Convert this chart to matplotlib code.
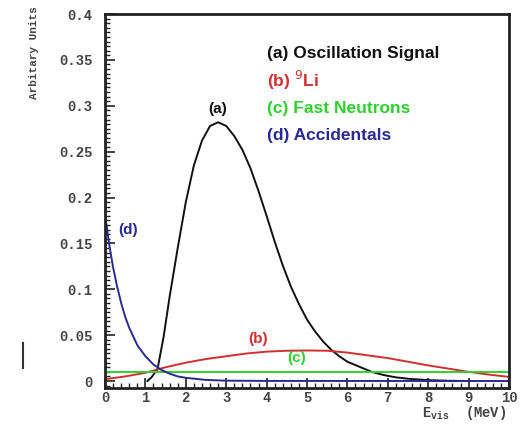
import matplotlib
matplotlib.use("Agg")
import matplotlib.pyplot as plt
from matplotlib.ticker import MultipleLocator
from matplotlib.font_manager import FontProperties
from matplotlib.lines import Line2D

# ── Data ──────────────────────────────────────────────────────────────────────

osc_x = [1.05, 1.15, 1.3, 1.45, 1.6, 1.8, 2.0, 2.2, 2.4, 2.6, 2.8, 3.0, 3.2, 3.4,
         3.6, 3.8, 4.0, 4.2, 4.4, 4.6, 4.8, 5.0, 5.2, 5.4, 5.6, 5.8, 6.0, 6.3,
         6.6, 6.9, 7.2, 7.5, 8.0, 8.5, 9.0]
osc_y = [0.0, 0.004, 0.013, 0.048, 0.092, 0.145, 0.195, 0.235, 0.262, 0.278,
         0.282, 0.278, 0.267, 0.252, 0.232, 0.207, 0.180, 0.152, 0.126, 0.103,
         0.084, 0.067, 0.054, 0.043, 0.034, 0.027, 0.021, 0.0155, 0.010,
         0.0065, 0.004, 0.0025, 0.001, 0.0003, 0.0]

li9_x = [0.0, 0.5, 1.0, 1.5, 2.0, 2.5, 3.0, 3.5, 4.0, 4.5, 5.0, 5.5, 6.0, 6.5,
         7.0, 7.5, 8.0, 8.5, 9.0, 9.5, 10.0]
li9_y = [0.002, 0.005, 0.009, 0.015, 0.020, 0.024, 0.027, 0.030, 0.032, 0.033,
         0.0333, 0.033, 0.031, 0.028, 0.025, 0.021, 0.017, 0.0135, 0.010,
         0.007, 0.0045]

fastn_x = [0.0, 10.0]
fastn_y = [0.010, 0.010]

acc_x = [0.0, 0.1, 0.2, 0.3, 0.4, 0.5, 0.6, 0.8, 1.0, 1.2, 1.4, 1.6, 1.8, 2.0,
         2.5, 3.0, 4.0, 10.0]
acc_y = [0.182, 0.150, 0.124, 0.103, 0.085, 0.070, 0.058, 0.039, 0.027, 0.018,
         0.012, 0.008, 0.005, 0.0035, 0.0012, 0.0004, 0.0001, 0.0]

labels = ["(a) Oscillation Signal", "(b) $^{9}$Li", "(c) Fast Neutrons", "(d) Accidentals"]
tags = ["(a)", "(b)", "(c)", "(d)"]
tag_x = [2.78, 3.79, 4.75, 0.58]
tag_y = [0.296, 0.046, 0.025, 0.165]
colors = ["#111111", "#d03030", "#30d030", "#2a2a90"]

# ── Figure ────────────────────────────────────────────────────────────────────

W, H = 526, 425
fig = plt.figure(figsize=(W / 100, H / 100), dpi=100)
ax = fig.add_axes([105 / W, 1 - 388 / H, (509 - 105) / W, (388 - 14) / H])

series = [(osc_x, osc_y), (li9_x, li9_y), (fastn_x, fastn_y), (acc_x, acc_y)]
for (xs, ys), c in zip(series, colors):
    ax.plot(xs, ys, color=c, lw=1.4)

ax.set_xlim(0, 10)
ax.set_ylim(-0.0076, 0.4)

ax.xaxis.set_major_locator(MultipleLocator(1))
ax.xaxis.set_minor_locator(MultipleLocator(0.2))
ax.yaxis.set_major_locator(MultipleLocator(0.05))
ax.yaxis.set_minor_locator(MultipleLocator(0.005))
ax.yaxis.set_major_formatter(plt.FuncFormatter(lambda v, p: f"{v:g}" if abs(v) > 1e-9 else "0"))
ax.tick_params(which="both", direction="in", top=False, right=False, colors="#222222")
ax.tick_params(which="major", length=7, width=1.2)
ax.tick_params(which="minor", length=3.5, width=1.0)
ax.tick_params(axis="y", which="major", pad=9)
ax.tick_params(axis="x", which="major", pad=2)

mono = FontProperties(family="Liberation Mono", weight="bold", size=10)
for t in ax.get_xticklabels() + ax.get_yticklabels():
    t.set_fontproperties(mono)
    t.set_color("#444444")
for s in ax.spines.values():
    s.set_linewidth(2.0)
    s.set_color("#222222")

# curve tags
for t, x, y, c in zip(tags, tag_x, tag_y, colors):
    ax.text(x, y, t, color=c, ha="center", va="center",
            family="Liberation Sans", weight="bold", fontsize=11)

# text legend
for i, (lab, c) in enumerate(zip(labels, colors)):
    ax.text(4.0, 0.357 - i * 0.0298, lab, color=c, ha="left", va="center",
            family="Liberation Sans", weight="bold", fontsize=12.5)

# axis titles placed like the original
fig.text(34 / W, 1 - 6 / H, "Arbitary Units", rotation=90, ha="center", va="top",
         family="Liberation Mono", weight="bold", fontsize=8, color="#444444")
fig.text(506 / W, 1 - 413 / H, r"E$_{\mathregular{vis}}$  (MeV)", ha="right", va="center",
         family="Liberation Mono", weight="bold", fontsize=10, color="#444444")

# stray mark at left edge of the scan
fig.add_artist(Line2D([23 / W, 23 / W], [1 - 343 / H, 1 - 368 / H], color="#333333", lw=1.5))

fig.savefig("out.png", dpi=100)
